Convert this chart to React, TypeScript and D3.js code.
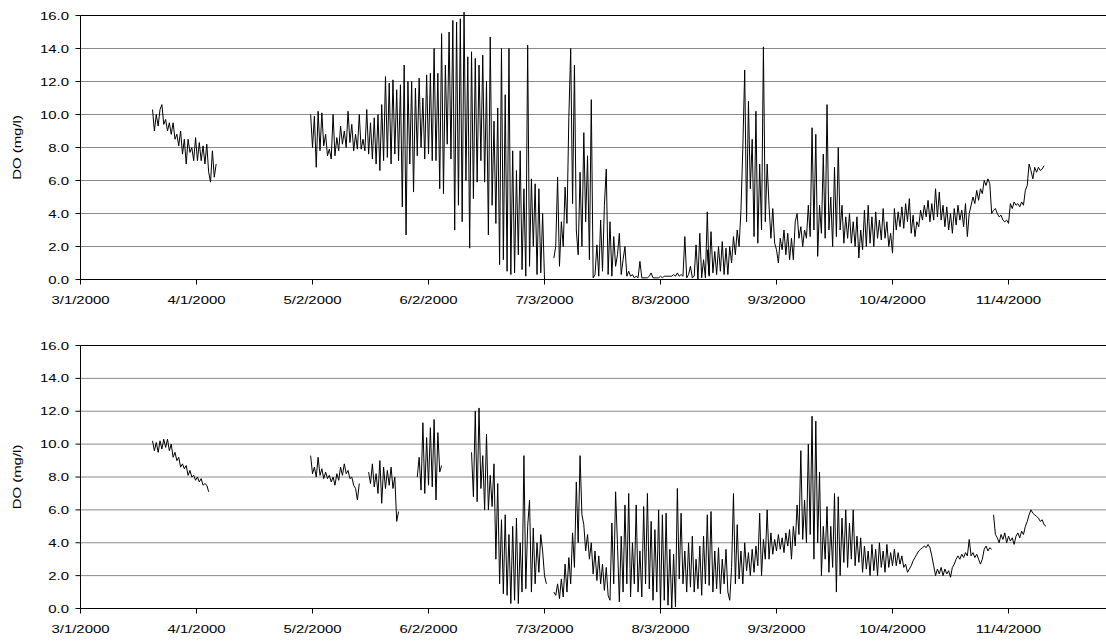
import React from "react";
import * as d3 from "d3";

// ---- axes ----
const xTickDates = [
  "2000-03-01", "2000-04-01", "2000-05-02", "2000-06-02", "2000-07-03",
  "2000-08-03", "2000-09-03", "2000-10-04", "2000-11-04",
];
const xTickLabels = [
  "3/1/2000", "4/1/2000", "5/2/2000", "6/2/2000", "7/3/2000",
  "8/3/2000", "9/3/2000", "10/4/2000", "11/4/2000",
];
const yTickValues = [0, 2, 4, 6, 8, 10, 12, 14, 16];
const xDomain = ["2000-03-01 00:00", "2000-11-30 00:00"];
const yTitle = "DO (mg/l)";

// ---- upper station: DO readings every 12 hours ----
const upMar = [10.3, 9.0, 10.0, 9.3, 10.3, 10.6, 9.4, 9.7, 9.0, 9.5, 8.8, 9.5, 8.5, 8.8, 8.1, 9.0, 7.6, 8.5, 7.0, 8.5, 7.7, 8.0, 7.2, 8.6, 7.2, 8.3, 7.2, 8.1, 7.0, 8.2, 6.5, 5.9, 7.8, 6.2, 7.0];
const upMayA = [10.0, 8.0, 9.9, 6.8, 10.2, 7.8, 10.1, 8.1, 8.8, 7.5, 7.9, 7.3, 10.0, 7.5, 8.6, 7.8, 9.3, 8.2, 9.0, 8.0, 10.2, 8.3, 9.4, 7.8, 8.8, 7.9, 10.0, 7.9, 8.5, 7.8, 10.3];
const upMayB = [7.6, 9.5, 7.3, 9.8, 7.0, 10.0, 6.6, 10.6, 7.2, 12.3];
const upMayC = [7.4, 11.9, 7.0, 12.1, 7.6, 11.5, 7.2, 11.8, 4.4, 13.0, 2.7, 12.0, 7.0];
const upMayD = [12.0, 5.3, 11.6, 7.5, 12.2, 8.0, 11.0, 7.3, 12.4, 7.6, 12.5, 7.2];
const upJunA = [14.0, 7.2, 12.5, 5.5, 14.9, 5.2, 13.0, 8.2, 15.0, 7.3, 15.7, 3.0, 15.6, 4.5, 15.8, 3.5, 16.2, 6.0, 13.5, 1.9];
const upJunB = [13.8, 4.9, 13.4, 5.9, 13.0, 7.2, 13.6, 5.9, 12.0, 2.7, 14.7, 4.5];
const upJunC = [9.6, 3.4, 10.4, 0.9, 14.0, 1.2, 11.2, 0.5, 14.0, 0.3, 7.8, 0.4, 6.6, 1.5, 7.8, 0.6, 5.5, 0.2, 14.2, 0.8, 6.1, 2.0, 5.8, 0.3, 5.5, 0.4, 4.0, 0.0];
const upJulA = [1.3, 2.0, 6.2, 0.8, 3.5, 2.0, 5.6, 3.4, 9.8, 14.0, 4.6, 13.0, 3.0, 1.5, 6.5, 2.0, 8.9, 3.5, 7.5, 1.2, 10.9, 0.1];
const upJulB = [0.3, 2.1, 0.2, 3.6, 0.5, 4.5, 6.7, 0.3, 3.5, 0.2, 2.6, 0.8, 1.5, 2.8, 0.3, 1.2, 2.0, 0.2, 0.5, 0.2, 0.3, 0.1, 0.2, 0.1, 1.1, 0.1];
const upJulC = [0.1, 0.2, 0.4, 0.1, 0.1, 0.1, 0.1, 0.2, 0.1, 0.2, 0.2, 0.2, 0.2, 0.2, 0.3, 0.2, 0.4, 0.2, 0.3, 0.2, 2.6, 0.1, 0.3, 0.8, 0.1, 0.2, 2.1, 0.0, 2.8, 0.1, 1.2, 0.1, 4.1, 0.2];
const upAugA = [1.8, 0.3, 2.9, 0.4, 1.7, 0.3, 2.0, 0.5, 2.3, 0.3, 1.9, 0.3, 2.0, 1.0, 2.6, 1.5, 3.0, 2.0];
const upAugB = [4.2, 8.0, 12.7, 3.5, 10.8, 5.5, 8.5, 2.6, 10.2, 2.2, 7.0, 3.0, 14.1, 3.5, 7.0, 4.5];
const upSepA = [2.5, 4.3, 2.2, 1.8, 1.0, 2.5, 1.8, 3.0, 1.5, 2.8, 1.2, 2.5, 1.2, 3.5, 4.0, 2.5, 3.2, 2.0, 3.0, 2.5];
const upSepB = [4.5, 2.6, 9.2, 3.0, 8.8, 1.4, 4.5, 2.8, 7.6, 2.5, 10.6, 3.0, 5.0, 2.0, 6.8, 2.6, 8.0, 3.0];
const upSepC = [4.5, 2.2, 3.8, 2.5, 4.0, 2.2, 3.5, 2.0, 3.8, 1.3, 3.0, 1.8, 4.2, 2.0, 4.5, 2.2, 3.8, 2.0, 4.1, 2.5, 3.6, 2.4, 4.3, 2.5, 3.5, 2.0, 2.8, 1.6];
const upOctA = [4.3, 3.0, 4.1, 3.2, 4.4, 3.1, 4.6, 3.5, 4.9, 2.8, 3.9, 2.6, 3.5, 3.2, 4.2, 3.6, 4.5, 3.8, 4.8, 3.5, 4.6, 3.6, 5.5, 3.8, 5.3, 3.6, 4.5, 3.2, 4.4, 3.0, 4.0, 2.8, 4.3, 3.3, 4.5, 3.6, 4.2, 3.2, 4.6, 2.6, 4.0];
const upOctB = [4.5, 5.0, 4.6, 5.4, 4.8, 5.5, 5.2, 6.0, 5.7, 6.1, 5.8, 4.0];
const upNovA = [4.2, 4.3, 4.0, 3.8, 3.9, 3.6, 3.5, 3.6, 3.4, 4.6];
const upNovB = [4.3, 4.7, 4.5, 4.6, 4.4, 4.7, 4.5, 5.4, 5.7];
const upNovC = [7.0, 6.6, 6.1, 6.8, 6.5, 6.8, 6.6, 6.7, 6.9];

// ---- lower station: DO readings every 12 hours ----
const loMar = [10.2, 9.6, 10.1, 9.5, 10.2, 9.7, 10.3, 9.8, 10.3, 9.6, 10.0, 9.2, 9.5, 9.0, 9.2, 8.6, 8.8, 8.5, 8.7, 8.1, 8.4, 8.0, 8.1, 7.8, 8.0, 7.7, 7.9, 7.5, 7.6, 7.5, 7.1];
const loMayA = [9.3, 8.2, 8.6, 8.0, 9.2, 8.1, 8.5, 7.9, 8.3, 7.9, 8.1, 7.7, 8.0, 7.5, 8.2, 7.8, 8.6, 8.1, 8.8, 8.2, 8.4, 7.9, 8.0, 7.5, 7.3, 6.6, 7.6];
const loMayB = [8.3, 7.6, 8.8, 7.4, 8.2, 7.0, 9.0, 6.4, 8.6, 7.3, 8.4, 7.5, 8.6, 7.3, 8.0, 5.3, 5.9];
const loMayC = [8.0, 9.2, 7.2, 11.3, 7.0, 10.4, 7.5, 11.0, 7.4, 11.5, 6.6, 10.7, 8.3, 8.7];
const loJun = [9.5, 6.8, 12.0, 6.5, 12.2, 7.3, 9.3, 6.0, 10.6, 6.0, 8.1, 6.2, 8.8, 3.0, 7.6, 1.5, 5.4, 0.9, 5.7, 0.8, 4.5, 0.3, 5.0, 0.5, 5.5, 0.3, 4.0, 1.0, 9.3, 1.2, 5.0, 6.6, 1.0, 4.9, 1.5, 4.0, 2.2, 4.5, 3.5, 2.0, 1.5];
const loJulA = [1.0, 0.8, 1.5, 0.6, 1.8, 0.7, 2.7, 1.0, 3.1, 1.5, 4.6, 2.5, 7.7, 4.0, 9.3, 5.7, 5.1, 3.5, 4.5, 3.0, 4.0, 2.1, 3.5, 1.7, 3.2, 1.5, 2.7, 1.1, 2.5, 0.8, 0.5];
const loJulB = [5.2, 1.5, 7.1, 3.9, 0.4, 4.4, 1.0, 6.3, 1.5, 7.0, 0.7, 4.0, 1.5, 6.3, 1.0, 3.5, 0.7, 6.2, 1.5, 7.0, 1.2, 5.3, 0.5, 4.8, 1.0, 6.0, 0.0, 5.7, 0.5, 5.8, 0.2, 3.6, 0.0, 3.3, 0.1, 7.3, 1.8, 5.8, 1.5, 3.5, 1.0, 4.0, 1.3, 4.4, 1.0];
const loAug = [3.0, 1.2, 3.8, 0.8, 4.4, 1.5, 5.7, 1.4, 5.9, 1.0, 3.5, 1.2, 3.7, 0.9, 3.0, 1.5, 3.6, 1.0, 0.5, 2.5, 7.0, 1.5, 5.1, 1.8, 3.5, 1.5, 4.0, 2.3, 3.4, 2.0, 3.6, 2.2, 3.8, 2.6, 5.8, 2.0, 4.2, 3.0, 6.0, 3.0, 4.6, 3.3, 4.2, 3.5, 4.5, 3.6, 4.3, 3.4, 4.6, 3.8, 4.8, 3.0];
const loSep = [5.0, 3.8, 6.3, 4.5, 9.6, 4.2, 6.6, 4.0, 10.0, 4.5, 11.7, 3.0, 11.4, 4.0, 8.3, 2.0, 5.0, 3.0, 6.2, 2.2, 5.0, 2.5, 7.0, 1.0, 6.8, 2.0, 5.5, 2.8, 6.0, 2.5, 5.2, 3.0, 6.0, 2.6, 4.4, 2.8];
const loOct = [4.3, 2.2, 3.8, 2.4, 3.5, 2.0, 3.9, 2.3, 3.6, 2.0, 4.0, 2.5, 3.5, 2.2, 3.9, 2.5, 3.4, 2.6, 3.6, 2.6, 3.4, 2.7, 3.2, 2.5, 2.7, 2.2, 2.4, 2.6, 2.9, 3.1, 3.3, 3.5, 3.6, 3.7, 3.8, 3.7, 3.9, 3.7, 3.2, 2.6, 2.0, 2.4, 2.1, 2.5, 2.0, 2.4, 2.1, 2.3, 1.9, 2.5, 2.7, 3.0, 3.2, 3.0, 3.3, 3.1, 3.4, 3.2, 4.2, 3.2, 3.4, 3.1, 3.3, 3.0, 2.7, 3.0, 3.6, 3.8, 3.5, 3.7, 3.6];
const loNov = [5.7, 4.5, 4.3, 4.0, 4.5, 4.2, 4.6, 4.0, 4.4, 4.1, 4.3, 3.9, 4.4, 4.6, 4.3, 4.7, 4.5, 5.0, 5.3, 5.7, 6.0, 5.8, 5.7, 5.6, 5.5, 5.3, 5.4, 5.1, 5.0];

type Chunk = { start: string; values: number[] };
type Run = Chunk[];

// Each run is an unbroken stretch of record; chunks inside a run follow one another.
const upperRuns: Run[] = [
  [{ start: "2000-03-20 06:00", values: upMar }],
  [
    { start: "2000-05-01 12:00", values: upMayA },
    { start: "2000-05-17 00:00", values: upMayB },
    { start: "2000-05-22 00:00", values: upMayC },
    { start: "2000-05-28 12:00", values: upMayD },
    { start: "2000-06-03 12:00", values: upJunA },
    { start: "2000-06-13 12:00", values: upJunB },
    { start: "2000-06-19 12:00", values: upJunC },
  ],
  [
    { start: "2000-07-05 12:00", values: upJulA },
    { start: "2000-07-16 12:00", values: upJulB },
    { start: "2000-07-30 12:00", values: upJulC },
    { start: "2000-08-15 12:00", values: upAugA },
    { start: "2000-08-24 12:00", values: upAugB },
    { start: "2000-09-01 12:00", values: upSepA },
    { start: "2000-09-11 12:00", values: upSepB },
    { start: "2000-09-20 12:00", values: upSepC },
    { start: "2000-10-04 12:00", values: upOctA },
    { start: "2000-10-25 00:00", values: upOctB },
    { start: "2000-10-31 00:00", values: upNovA },
    { start: "2000-11-05 00:00", values: upNovB },
    { start: "2000-11-09 12:00", values: upNovC },
  ],
];

const lowerRuns: Run[] = [
  [{ start: "2000-03-20 06:00", values: loMar }],
  [{ start: "2000-05-01 12:00", values: loMayA }],
  [{ start: "2000-05-17 00:00", values: loMayB }],
  [{ start: "2000-05-30 00:00", values: loMayC }],
  [{ start: "2000-06-13 12:00", values: loJun }],
  [
    { start: "2000-07-05 12:00", values: loJulA },
    { start: "2000-07-21 00:00", values: loJulB },
    { start: "2000-08-12 12:00", values: loAug },
    { start: "2000-09-07 12:00", values: loSep },
    { start: "2000-09-25 12:00", values: loOct },
  ],
  [{ start: "2000-10-31 00:00", values: loNov }],
];

const parseTime = d3.timeParse("%Y-%m-%d %H:%M");
const parseDay = d3.timeParse("%Y-%m-%d");
const STEP_MS = 12 * 3600 * 1000;

type Pt = { t: Date; v: number };
function runPoints(run: Run): Pt[] {
  return run.flatMap((c) => {
    const t0 = parseTime(c.start)!.getTime();
    return c.values.map((v, i) => ({ t: new Date(t0 + i * STEP_MS), v }));
  });
}

const WIDTH = 1106;
const HEIGHT = 641;
const LEFT = 80.5;
const PX_PER_DAY = 3.742;
const DAYS = 274;

const x = d3
  .scaleTime()
  .domain([parseTime(xDomain[0])!, parseTime(xDomain[1])!])
  .range([LEFT, LEFT + DAYS * PX_PER_DAY]);

const FONT = "'Liberation Sans', Arial, Helvetica, sans-serif";
const FONT_SIZE = 11.5;
// labels are set in a wide face: stretch along the reading direction
const TEXT_STRETCH = 1.3;

function Label({
  x: tx,
  y: ty,
  anchor,
  rotate = 0,
  dy,
  children,
}: {
  x: number;
  y: number;
  anchor: "start" | "middle" | "end";
  rotate?: number;
  dy?: string;
  children: React.ReactNode;
}) {
  return (
    <text
      transform={`translate(${tx},${ty}) rotate(${rotate}) scale(${TEXT_STRETCH},1)`}
      dy={dy}
      textAnchor={anchor}
      fontSize={FONT_SIZE}
      fontFamily={FONT}
      fill="#000"
    >
      {children}
    </text>
  );
}

function Panel({ runs, top, bottom }: { runs: Run[]; top: number; bottom: number }) {
  const y = d3.scaleLinear().domain([0, 16]).range([bottom, top]);
  const line = d3
    .line<Pt>()
    .x((d) => x(d.t))
    .y((d) => y(d.v));
  const right = WIDTH;
  return (
    <g>
      {yTickValues.map((v) => {
        const yy = y(v);
        const isEdge = v === 0 || v === 16;
        return (
          <g key={v}>
            <line
              x1={LEFT}
              x2={right}
              y1={yy}
              y2={yy}
              stroke={isEdge ? "#000" : "#8a8a8a"}
              strokeWidth={1}
            />
            <line x1={LEFT - 5} x2={LEFT} y1={yy} y2={yy} stroke="#000" />
            <Label x={69} y={yy} dy="0.35em" anchor="end">
              {v.toFixed(1)}
            </Label>
          </g>
        );
      })}
      <line x1={LEFT} x2={LEFT} y1={top} y2={bottom} stroke="#000" />
      {xTickDates.map((d, i) => {
        const xx = Math.round(x(parseDay(d)!) - 0.5) + 0.5;
        return (
          <g key={d}>
            <line x1={xx} x2={xx} y1={bottom} y2={bottom + 5} stroke="#000" />
            <Label x={xx} y={bottom + 24} anchor="middle">
              {xTickLabels[i]}
            </Label>
          </g>
        );
      })}
      <Label x={20.5} y={(top + bottom) / 2} rotate={-90} anchor="middle">
        {yTitle}
      </Label>
      {runs.map((r, i) => (
        <path
          key={i}
          d={line(runPoints(r)) || ""}
          fill="none"
          stroke="#000"
          strokeWidth={1}
          strokeLinejoin="round"
        />
      ))}
    </g>
  );
}

export default function App() {
  return (
    <svg
      width={WIDTH}
      height={HEIGHT}
      style={{ position: "absolute", left: 0, top: 0, background: "#fff" }}
    >
      <Panel runs={upperRuns} top={15.5} bottom={279.5} />
      <Panel runs={lowerRuns} top={345.5} bottom={608.5} />
    </svg>
  );
}
